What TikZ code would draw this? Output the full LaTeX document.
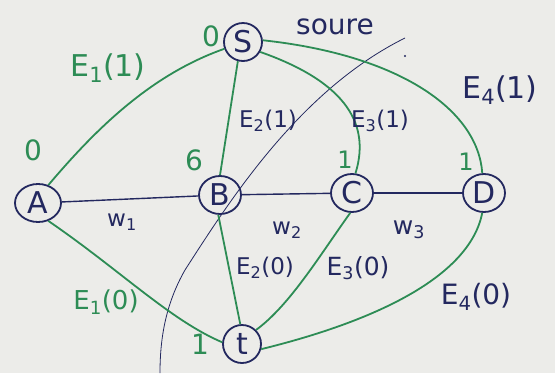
\documentclass[tikz,border=0pt]{standalone}
\usepackage{fontspec}
\setmainfont{DejaVu Sans}
\usetikzlibrary{shapes.geometric}
\definecolor{gr}{RGB}{45,140,85}
\definecolor{bl}{RGB}{35,40,95}
\definecolor{bg}{RGB}{236,236,233}
\newcommand{\sbs}[1]{\textsubscript{#1}}
\begin{document}
\begin{tikzpicture}[x=1pt,y=-1pt,
  vert/.style={draw=bl,line width=1.8pt,ellipse,inner sep=0pt,minimum width=42pt,minimum height=38pt,font=\fontsize{30}{32}\selectfont,text=bl},
  gedge/.style={draw=gr,line width=1.8pt},
  bedge/.style={draw=bl,line width=1.4pt},
  glab/.style={text=gr,font=\fontsize{24}{26}\selectfont},
  blab/.style={text=bl,font=\fontsize{23}{25}\selectfont}]
\fill[bg] (0,0) rectangle (555,373);
\useasboundingbox (0,0) rectangle (555,373);
\node[vert,minimum width=38pt] (S) at (243,42) {S};
\node[vert,minimum width=46pt] (A) at (38,203) {A};
\node[vert] (B) at (220,195) {B};
\node[vert] (C) at (352,193) {C};
\node[vert] (D) at (484,193) {D};
\node[vert,minimum width=38pt] (t) at (242,344) {t};
% cut line
\coordinate (k1) at (405,38);
\coordinate (k2) at (160,373);
\draw[bl,line width=0.8pt] (k1) .. controls (300,90) and (230,200) .. (185,270) .. controls (165,305) and (160,340) .. (k2);
\fill[bl] (405,56) circle (1.2pt);
% blue edges
\draw[bedge] (A) -- (B);
\draw[bedge] (B) -- (C);
\draw[bedge] (C) -- (D);
% green edges
\draw[gedge] (S.200) .. controls (150,75) and (95,130) .. (A.60);
\draw[gedge] (S.255) -- (B.90);
\draw[gedge] (S.330) .. controls (340,80) and (372,120) .. (C.80);
\draw[gedge] (S.5) .. controls (400,55) and (478,110) .. (D.95);
\draw[gedge] (A.300) .. controls (120,270) and (170,320) .. (t.175);
\draw[gedge] (B.265) -- (t.95);
\draw[gedge] (C.265) .. controls (320,255) and (290,305) .. (t.45);
\draw[gedge] (D.265) .. controls (470,275) and (380,320) .. (t.345);
% labels
\node[glab,font=\fontsize{28}{30}\selectfont] (l0s) at (211,36) {0};
\node[blab,font=\fontsize{28}{30}\selectfont] (src) at (335,27) {soure};
\node[glab,font=\fontsize{30}{32}\selectfont] (le1) at (108,68) {E\sbs{1}(1)};
\node[blab] (le2) at (268,121) {E\sbs{2}(1)};
\node[blab] (le3) at (380,121) {E\sbs{3}(1)};
\node[blab,font=\fontsize{30}{32}\selectfont] (le4) at (500,90) {E\sbs{4}(1)};
\node[glab,font=\fontsize{28}{30}\selectfont] (l0a) at (33,150) {0};
\node[glab,font=\fontsize{28}{30}\selectfont] (l0b) at (194,160) {6};
\node[glab] (l1c) at (345,160) {1};
\node[glab] (l1d) at (466,162) {1};
\node[blab] (w1) at (122,222) {w\sbs{1}};
\node[blab] (w2) at (287,230) {w\sbs{2}};
\node[blab,font=\fontsize{25}{27}\selectfont] (w3) at (409,230) {w\sbs{3}};
\node[blab] (le20) at (265,268) {E\sbs{2}(0)};
\node[blab,font=\fontsize{25}{27}\selectfont] (le30) at (358,268) {E\sbs{3}(0)};
\node[blab,font=\fontsize{28}{30}\selectfont] (le40) at (476,297) {E\sbs{4}(0)};
\node[glab,font=\fontsize{26}{28}\selectfont] (le10) at (106,302) {E\sbs{1}(0)};
\node[glab,font=\fontsize{28}{30}\selectfont] (l1t) at (200,344) {1};
\end{tikzpicture}
\end{document}
